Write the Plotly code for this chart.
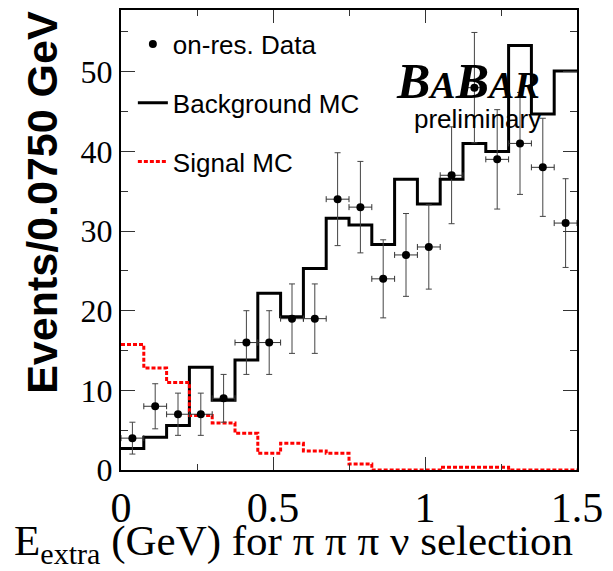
import numpy as np
import plotly.graph_objects as go

# ---- data ----
bin_width = 0.075
n_bins = 20
bin_edges = [round(i * bin_width, 4) for i in range(n_bins + 1)]
bin_centers = [round((i + 0.5) * bin_width, 4) for i in range(n_bins)]

data_counts = [4, 8, 7, 7, 9, 16, 16, 19, 19, 34, 33, 24, 27, 28, 37, 48, 39, 41, 38, 31]
data_errors = [2.0, 2.83, 2.65, 2.65, 3.0, 4.0, 4.0, 4.36, 4.36, 5.83,
               5.74, 4.9, 5.2, 5.29, 6.08, 6.93, 6.24, 6.4, 6.16, 5.57]
background_mc = [2.7, 4.1, 5.6, 12.9, 8.75, 13.8, 22.2, 19.25, 25.3, 31.6,
                 30.75, 28.3, 36.5, 33.4, 36.5, 41.0, 40.0, 53.3, 44.7, 50.1]
signal_mc = [15.75, 12.8, 11.0, 6.85, 5.9, 4.6, 2.1, 3.35, 2.4, 2.1,
             0.75, 0.0, 0.0, 0.0, 0.33, 0.33, 0.33, 0.0, 0.0, 0.0]

x_tick_vals = [0, 0.5, 1, 1.5]
x_tick_text = ["0", "0.5", "1", "1.5"]
y_tick_vals = [0, 10, 20, 30, 40, 50]
y_tick_text = ["0", "10", "20", "30", "40", "50"]

X_RANGE = [0, 1.5]
Y_RANGE = [0, 57.75]

SERIF = "Liberation Serif, Times New Roman, serif"
SANS = "Liberation Sans, Arial, sans-serif"

fig = go.Figure()

fig.add_trace(go.Scatter(
    x=bin_edges, y=background_mc + [background_mc[-1]],
    mode="lines", line=dict(shape="hv", color="black", width=3),
    name="Background MC", legendgroup="b", legendrank=2,
))
fig.add_trace(go.Scatter(
    x=bin_edges, y=signal_mc + [signal_mc[-1]],
    mode="lines", line=dict(shape="hv", color="#ff0000", width=3, dash="4px,2px"),
    name="Signal MC", legendgroup="c", legendrank=3,
))
fig.add_trace(go.Scatter(
    x=bin_centers, y=data_counts,
    mode="markers", marker=dict(color="black", size=8),
    error_y=dict(type="data", array=data_errors, color="#444", thickness=1, width=3),
    error_x=dict(type="constant", value=bin_width / 2, color="#333", thickness=1, width=3),
    name="on-res. Data", legendgroup="a", legendrank=1,
))

axis_common = dict(
    showline=True, linecolor="black", linewidth=2, mirror="allticks",
    ticks="inside", tickcolor="#333", tickwidth=1,
    showgrid=False, zeroline=False,
)

fig.update_xaxes(
    range=X_RANGE, tickmode="array", tickvals=x_tick_vals, ticktext=x_tick_text,
    ticklen=13, tickfont=dict(family=SERIF, size=42, color="black"),
    minor=dict(dtick=0.25, ticklen=6, ticks="inside", tickcolor="#333", tickwidth=1),
    **axis_common,
)
fig.update_yaxes(
    range=Y_RANGE, tickmode="array", tickvals=y_tick_vals, ticktext=y_tick_text,
    ticklen=14, tickfont=dict(family=SERIF, size=32, color="black"),
    minor=dict(dtick=5, ticklen=7, ticks="inside", tickcolor="#333", tickwidth=1),
    **axis_common,
)

fig.update_layout(
    width=613, height=571,
    margin=dict(l=121, r=36, t=8, b=101),
    paper_bgcolor="white", plot_bgcolor="white",
    showlegend=True,
    legend=dict(
        x=0.026, y=0.977, xanchor="left", yanchor="top",
        bgcolor="rgba(0,0,0,0)", borderwidth=0,
        font=dict(family=SANS, size=26, color="black"),
        traceorder="grouped", tracegroupgap=22,
    ),
    annotations=[
        dict(
            text="<b><i>B<span style='font-size:38px'>A</span>B<span style='font-size:38px'>AR</span></i></b>",
            xref="paper", yref="paper", x=0.761, y=0.846, xanchor="center", yanchor="middle",
            showarrow=False, font=dict(family=SERIF, size=50, color="black"),
        ),
        dict(
            text="preliminary",
            xref="paper", yref="paper", x=0.782, y=0.764, xanchor="center", yanchor="middle",
            showarrow=False, font=dict(family=SANS, size=26, color="black"),
        ),
        dict(
            text="<b>Events/0.0750 GeV</b>",
            xref="paper", yref="paper", x=-0.172, y=0.582, xanchor="center", yanchor="middle",
            textangle=-90, showarrow=False, font=dict(family=SANS, size=43, color="black"),
        ),
        dict(
            text="E<sub>extra</sub> (GeV) for \u03c0 \u03c0 \u03c0 \u03bd selection",
            xref="paper", yref="paper", x=-0.239, y=-0.16, xanchor="left", yanchor="middle",
            showarrow=False, font=dict(family=SERIF, size=43, color="black"),
        ),
    ],
)

fig.write_html("out.html")
